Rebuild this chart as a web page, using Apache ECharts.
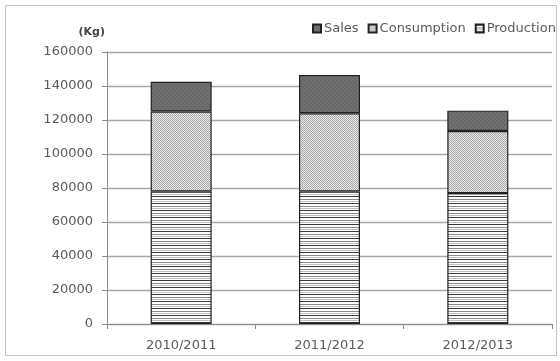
<!DOCTYPE html>
<html lang="en">
<head>
    <meta charset="UTF-8">
    <title>Production / Consumption / Sales</title>
    <style>
        html, body { margin: 0; padding: 0; background: #fff; }
        #main { width: 560px; height: 361px; }
    </style>
</head>
<body>
    <div id="main"></div>
<script type="text/javascript" src="https://cdn.jsdelivr.net/npm/echarts@6/dist/echarts.min.js"></script>
<script type="text/javascript">
    // data (kg)
    var seasons = ['2010/2011', '2011/2012', '2012/2013'];
    var production = [78000, 78000, 77000];
    var consumption = [47000, 46000, 36500];
    var sales = [17500, 22500, 12000];
    var yTicks = [0, 20000, 40000, 60000, 80000, 100000, 120000, 140000, 160000];

    var font = 'DejaVu Sans';

    // small canvas tiles for the hatch fills
    function makeTile(w, h, draw) {
        var c = document.createElement('canvas');
        c.width = w;
        c.height = h;
        draw(c.getContext('2d'));
        return { image: c, repeat: 'repeat' };
    }

    var stripeFill = makeTile(1, 7, function (ctx) {
        ctx.fillStyle = '#ffffff';
        ctx.fillRect(0, 0, 1, 7);
        ctx.fillStyle = '#3a3a3a';
        ctx.fillRect(0, 0, 1, 1);
        ctx.fillStyle = '#8a8a8a';
        ctx.fillRect(0, 3, 1, 1);
        ctx.fillStyle = '#c0c0c0';
        ctx.fillRect(0, 5, 1, 1);
    });

    var checkFill = makeTile(2, 2, function (ctx) {
        ctx.fillStyle = '#ececec';
        ctx.fillRect(0, 0, 2, 2);
        ctx.fillStyle = '#a6a6a6';
        ctx.fillRect(0, 0, 1, 1);
        ctx.fillRect(1, 1, 1, 1);
    });

    var darkFill = makeTile(4, 4, function (ctx) {
        ctx.fillStyle = '#707070';
        ctx.fillRect(0, 0, 4, 4);
        ctx.fillStyle = '#686868';
        ctx.fillRect(0, 0, 2, 2);
        ctx.fillRect(2, 2, 2, 2);
    });

    var myChart = echarts.init(document.getElementById('main'));

    function seriesOf(name, data, fill) {
        return {
            name: name,
            type: 'bar',
            stack: 'total',
            barWidth: 61,
            data: data,
            itemStyle: {
                color: fill,
                borderColor: '#222',
                borderWidth: 1.2
            }
        };
    }

    var option = {
        animation: false,
        backgroundColor: '#fff',
        textStyle: { fontFamily: font },
        graphic: [{
            type: 'rect',
            shape: { x: 5.5, y: 5.5, width: 551, height: 350 },
            style: { fill: 'none', stroke: '#c4c4c4', lineWidth: 1 },
            silent: true
        }],
        legend: {
            data: ['Sales', 'Consumption', 'Production'],
            left: 312,
            top: 22,
            padding: 0,
            itemWidth: 8,
            itemHeight: 8,
            itemGap: 9,
            icon: 'rect',
            textStyle: { fontFamily: font, fontSize: 13, color: '#5a5a5a', padding: [0, 0, 0, -2] }
        },
        grid: {
            left: 107,
            right: 8,
            top: 52,
            bottom: 37
        },
        xAxis: {
            type: 'category',
            data: seasons,
            axisLine: { lineStyle: { color: '#8a8a8a', width: 1 } },
            axisTick: { show: true, alignWithLabel: false, length: 5, lineStyle: { color: '#8a8a8a' } },
            axisLabel: { fontFamily: font, fontSize: 13, color: '#5a5a5a', margin: 15 }
        },
        yAxis: {
            type: 'value',
            min: yTicks[0],
            max: yTicks[yTicks.length - 1],
            interval: 20000,
            name: '(Kg)',
            nameLocation: 'end',
            nameGap: 14,
            nameTextStyle: { fontFamily: font, fontSize: 11, fontWeight: 'bold', color: '#444', align: 'right', padding: [0, 2, 0, 0] },
            axisLine: { show: true, lineStyle: { color: '#8a8a8a', width: 1 } },
            axisTick: { show: true, length: 5, lineStyle: { color: '#8a8a8a' } },
            axisLabel: {
                fontFamily: font,
                fontSize: 13,
                color: '#5a5a5a',
                margin: 14,
                formatter: function (v) { return String(v); }
            },
            splitLine: { lineStyle: { color: '#a8a8a8', width: 1.3 } }
        },
        series: [
            seriesOf('Production', production, stripeFill),
            seriesOf('Consumption', consumption, checkFill),
            seriesOf('Sales', sales, darkFill)
        ]
    };

    myChart.setOption(option);
</script>
</body>
</html>
